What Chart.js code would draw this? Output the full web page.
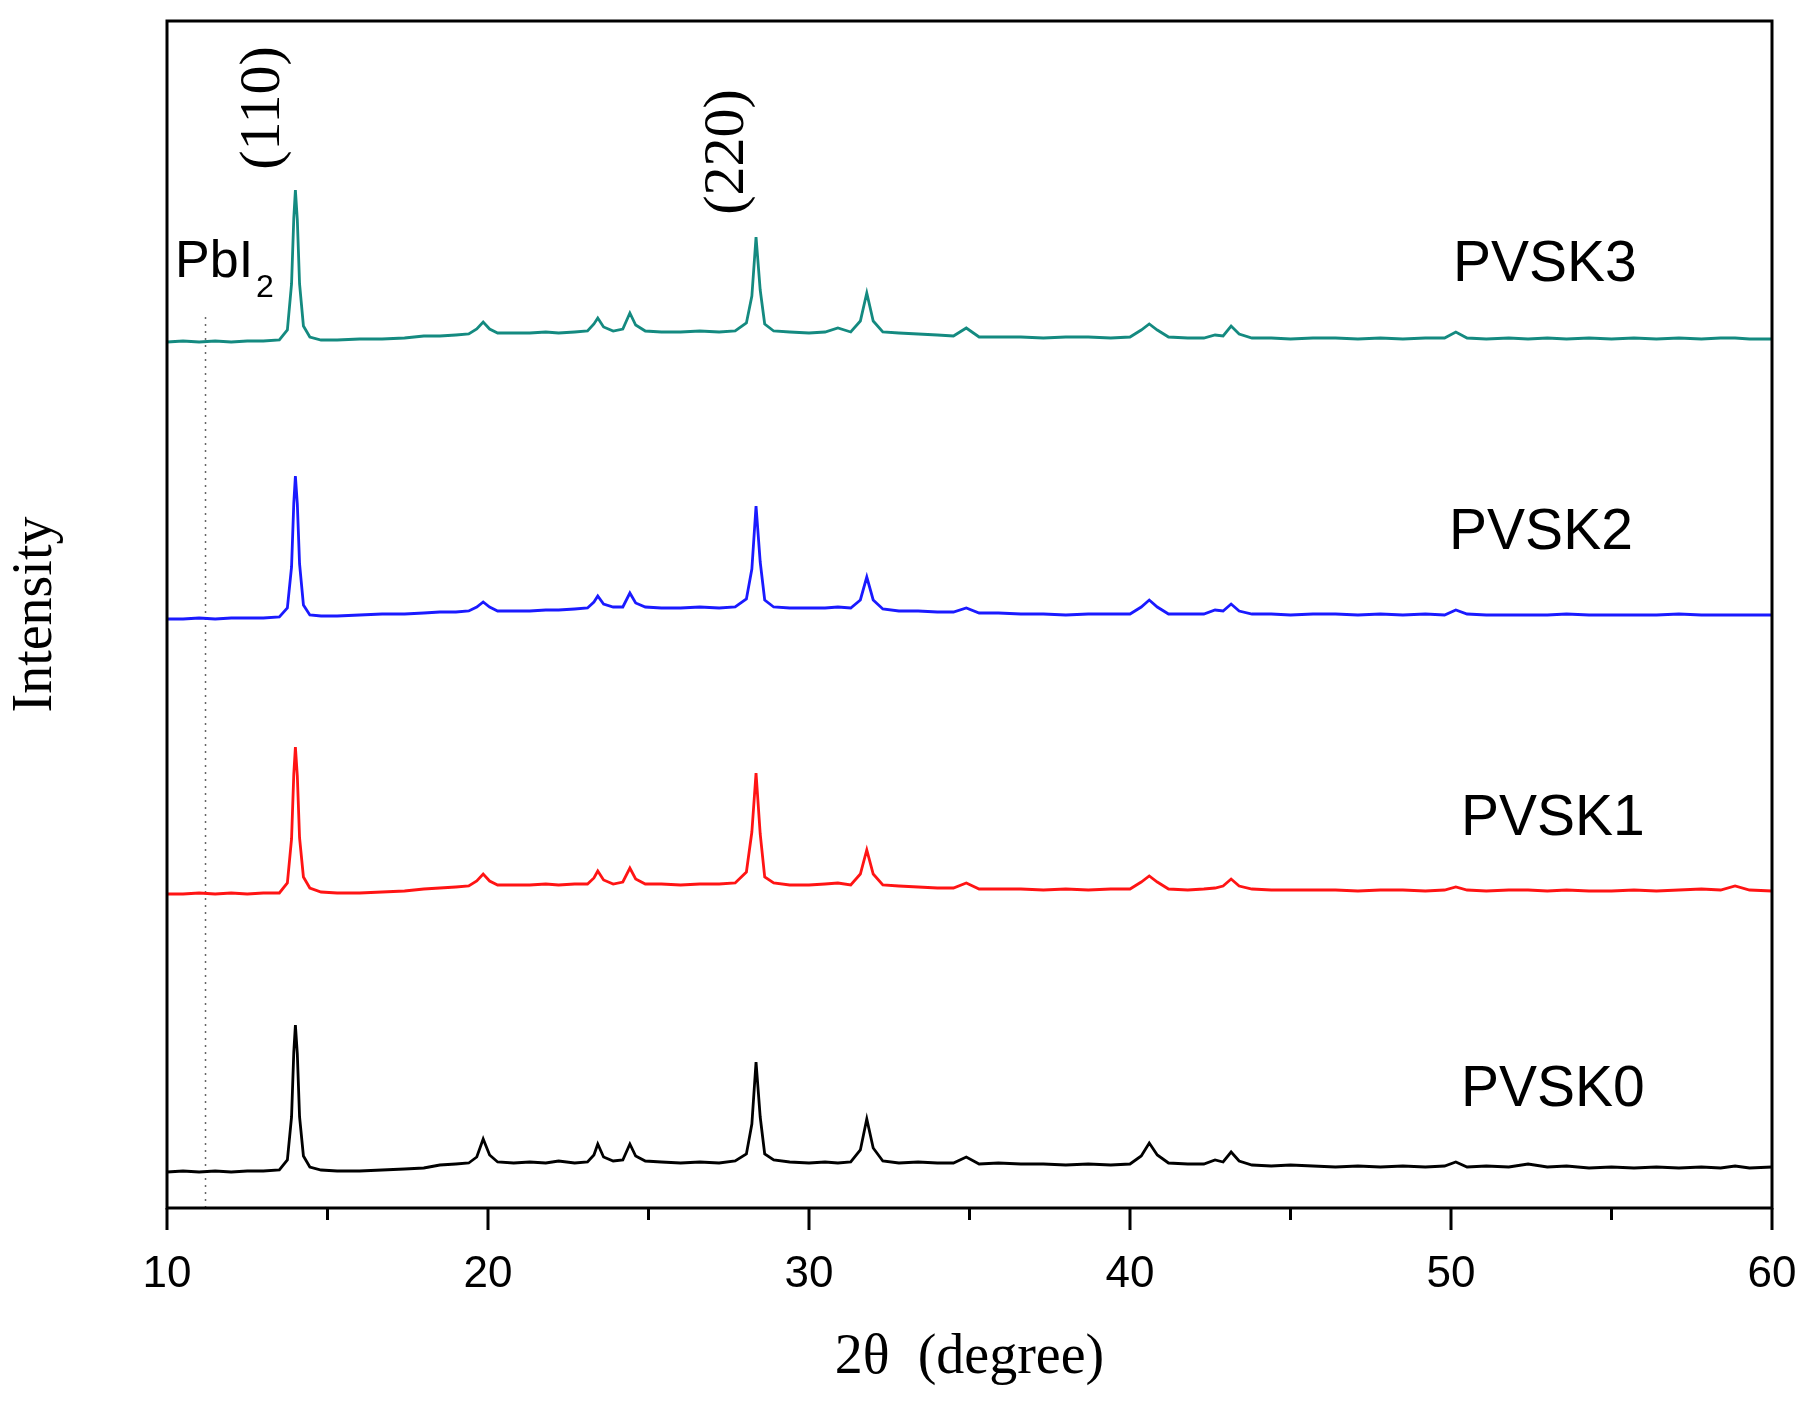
<!DOCTYPE html>
<html>
<head>
<meta charset="utf-8">
<script src="https://cdn.jsdelivr.net/npm/chart.js@4.4.0/dist/chart.umd.min.js"></script>
<style>
  body { margin: 0; background: #fff; }
  #wrap { width: 1808px; height: 1402px; }
</style>
</head>
<body>
<div id="wrap"><canvas id="xrdChart" width="1808" height="1402"></canvas></div>
<script>
// 2-theta positions shared by all four patterns
const angles = [
  10, 10.5, 11, 11.5, 12, 12.5, 13, 13.5, 13.75, 13.88,
  13.95, 14.0, 14.06, 14.13, 14.25, 14.45, 14.8, 15.3, 16, 16.7,
  17.4, 18, 18.5, 19, 19.4, 19.65, 19.85, 20.05, 20.3, 20.8,
  21.3, 21.8, 22.2, 22.7, 23.1, 23.3, 23.42, 23.6, 23.9, 24.2,
  24.42, 24.6, 24.9, 25.4, 26, 26.6, 27.2, 27.7, 28.05, 28.22,
  28.35, 28.48, 28.62, 28.9, 29.4, 30, 30.5, 30.9, 31.3, 31.6,
  31.8, 32.0, 32.3, 32.8, 33.4, 34, 34.5, 34.9, 35.3, 35.9,
  36.6, 37.3, 38, 38.7, 39.4, 40.0, 40.35, 40.6, 40.85, 41.2,
  41.8, 42.3, 42.65, 42.9, 43.15, 43.4, 43.8, 44.4, 45, 45.7,
  46.4, 47.1, 47.8, 48.5, 49.2, 49.8, 50.15, 50.5, 51.1, 51.8,
  52.4, 53, 53.6, 54.3, 55, 55.7, 56.4, 57.1, 57.8, 58.4,
  58.85, 59.3, 60
];

const pvsk0 = [
  0, 1, 0, 1, 0, 1, 1, 2, 12, 55,
  120, 147, 118, 55, 16, 5, 2, 1, 1, 2,
  3, 4, 7, 8, 9, 15, 33, 17, 10, 9,
  10, 9, 11, 9, 10, 17, 28, 15, 11, 12,
  28, 16, 11, 10, 9, 10, 9, 11, 18, 48,
  110, 55, 18, 12, 10, 9, 10, 9, 10, 22,
  53, 24, 11, 9, 10, 9, 9, 15, 8, 9,
  8, 8, 7, 8, 7, 8, 16, 29, 17, 9,
  8, 8, 12, 10, 20, 11, 7, 6, 7, 6,
  5, 6, 5, 6, 5, 6, 10, 5, 6, 5,
  8, 5, 6, 4, 5, 4, 5, 4, 5, 4,
  6, 4, 5
];

const pvsk1 = [
  0, 0, 1, 0, 1, 0, 1, 1, 11, 55,
  120, 147, 118, 56, 17, 6, 2, 1, 1, 2,
  3, 5, 6, 7, 8, 13, 20, 13, 9, 9,
  9, 10, 9, 10, 10, 16, 23, 14, 10, 12,
  26, 15, 10, 10, 9, 10, 10, 11, 22, 62,
  121, 60, 17, 11, 9, 9, 10, 11, 9, 20,
  44, 20, 9, 8, 7, 6, 6, 11, 5, 5,
  5, 4, 5, 4, 5, 5, 12, 18, 12, 5,
  4, 5, 6, 8, 15, 8, 5, 4, 4, 4,
  4, 3, 4, 4, 3, 4, 7, 4, 3, 4,
  4, 3, 4, 3, 3, 4, 3, 4, 5, 4,
  8, 4, 3
];

const pvsk2 = [
  0, 0, 1, 0, 1, 1, 1, 2, 11, 52,
  116, 143, 115, 55, 14, 4, 3, 3, 4, 5,
  5, 6, 7, 7, 8, 12, 17, 12, 8, 8,
  8, 9, 9, 10, 11, 17, 23, 15, 12, 12,
  26, 16, 12, 11, 11, 12, 11, 12, 20, 50,
  113, 57, 19, 12, 11, 11, 11, 12, 11, 19,
  42, 19, 10, 8, 8, 7, 7, 11, 6, 6,
  5, 5, 4, 5, 5, 5, 12, 19, 12, 5,
  5, 5, 9, 8, 15, 8, 5, 5, 4, 5,
  5, 4, 5, 4, 5, 4, 9, 5, 4, 4,
  4, 4, 5, 4, 4, 4, 4, 5, 4, 4,
  4, 4, 4
];

const pvsk3 = [
  0, 1, 0, 1, 0, 1, 1, 2, 12, 58,
  124, 152, 122, 58, 16, 5, 2, 2, 3, 3,
  4, 6, 6, 7, 8, 13, 20, 13, 9, 9,
  9, 10, 9, 10, 11, 18, 24, 15, 11, 13,
  29, 17, 11, 10, 10, 11, 10, 11, 19, 46,
  105, 52, 18, 11, 10, 9, 10, 14, 10, 21,
  49, 21, 10, 9, 8, 7, 6, 14, 5, 5,
  5, 4, 5, 5, 4, 5, 12, 18, 12, 5,
  4, 4, 7, 6, 16, 8, 4, 4, 3, 4,
  4, 3, 4, 3, 4, 4, 10, 4, 3, 4,
  3, 4, 3, 4, 3, 4, 3, 4, 3, 4,
  4, 3, 3
];

const sampleNames = ['PVSK0', 'PVSK1', 'PVSK2', 'PVSK3'];
const sampleColors = ['#000000', '#ff1414', '#1a1aff', '#148a80'];
const sampleOffsets = [36, 314, 589, 866];
const samplePatterns = [pvsk0, pvsk1, pvsk2, pvsk3];

// where the sample names sit (angle of left edge, level of text centre)
const nameAngles = [50.31, 50.31, 49.94, 50.06];
const nameLevels = [118, 389, 675, 943];

// rotated reflection labels
const hklLabels = ['(110)', '(220)'];
const hklAngles = [13.02, 27.48];
const hklLevels = [1100, 1056];

// PbI2 reference line
const pbi2Angle = 11.2;
const pbi2Top = 891;

const datasets = samplePatterns.map((pat, i) => ({
  label: sampleNames[i],
  data: angles.map((a, j) => ({ x: a, y: pat[j] + sampleOffsets[i] })),
  borderColor: sampleColors[i],
  borderWidth: 2.8,
  pointRadius: 0,
  tension: 0,
  fill: false
}));
datasets.push({
  label: 'PbI2',
  data: [{ x: pbi2Angle, y: 0 }, { x: pbi2Angle, y: pbi2Top }],
  borderColor: '#666',
  borderWidth: 1.5,
  borderDash: [2, 5],
  pointRadius: 0,
  fill: false
});

const decorPlugin = {
  id: 'decor',
  afterDraw(chart) {
    const { ctx, chartArea: a, scales: { x, y } } = chart;
    ctx.save();
    ctx.strokeStyle = '#000';
    ctx.lineWidth = 3;
    ctx.strokeRect(a.left, a.top, a.right - a.left, a.bottom - a.top);

    // outward ticks, long on the labelled ones
    x.ticks.forEach(t => {
      const px = x.getPixelForValue(t.value);
      const len = t.value % 10 === 0 ? 22 : 12;
      ctx.beginPath();
      ctx.moveTo(px, a.bottom);
      ctx.lineTo(px, a.bottom + len);
      ctx.stroke();
    });

    ctx.fillStyle = '#000';
    ctx.font = '57px "Liberation Sans"';
    ctx.textAlign = 'left';
    ctx.textBaseline = 'middle';
    sampleNames.forEach((name, i) => {
      ctx.fillText(name, x.getPixelForValue(nameAngles[i]), y.getPixelForValue(nameLevels[i]));
    });

    ctx.font = '58px "Liberation Serif"';
    hklLabels.forEach((lab, i) => {
      ctx.save();
      ctx.translate(x.getPixelForValue(hklAngles[i]), y.getPixelForValue(hklLevels[i]));
      ctx.rotate(-Math.PI / 2);
      ctx.textAlign = 'center';
      ctx.fillText(lab, 0, 0);
      ctx.restore();
    });

    ctx.font = '52px "Liberation Sans"';
    ctx.textBaseline = 'alphabetic';
    const px = x.getPixelForValue(10.25), py = y.getPixelForValue(931);
    ctx.fillText('PbI', px, py);
    const w = ctx.measureText('PbI').width;
    ctx.font = '32px "Liberation Sans"';
    ctx.fillText('2', px + w + 3, py + 20);
    ctx.restore();
  }
};

new Chart(document.getElementById('xrdChart'), {
  type: 'line',
  data: { datasets },
  options: {
    responsive: false,
    animation: false,
    layout: { padding: { top: 21, right: 36, left: 0, bottom: 0 } },
    plugins: { legend: { display: false }, tooltip: { enabled: false } },
    scales: {
      x: {
        type: 'linear',
        min: 10,
        max: 60,
        ticks: {
          stepSize: 5,
          autoSkip: false,
          maxRotation: 0,
          padding: 10,
          color: '#000',
          font: { family: 'Liberation Sans', size: 44 },
          callback: v => (v % 10 === 0 ? v : '')
        },
        // tick marks are drawn by the plugin; this only reserves the space
        grid: { drawOnChartArea: false, drawTicks: true, tickLength: 30, tickColor: 'rgba(0,0,0,0)' },
        border: { display: false },
        title: {
          display: true,
          text: '2θ  (degree)',
          color: '#000',
          font: { family: 'Liberation Serif', size: 56 },
          padding: { top: 0, bottom: 10 }
        },
        afterFit: s => { s.height = 194; }
      },
      y: {
        min: 0,
        max: 1187,
        ticks: { display: false },
        grid: { display: false },
        border: { display: false },
        title: {
          display: true,
          text: 'Intensity',
          color: '#000',
          font: { family: 'Liberation Serif', size: 56 },
          padding: { top: 3, bottom: 0 }
        },
        afterFit: s => { s.width = 167; }
      }
    }
  },
  plugins: [decorPlugin]
});
</script>
</body>
</html>
